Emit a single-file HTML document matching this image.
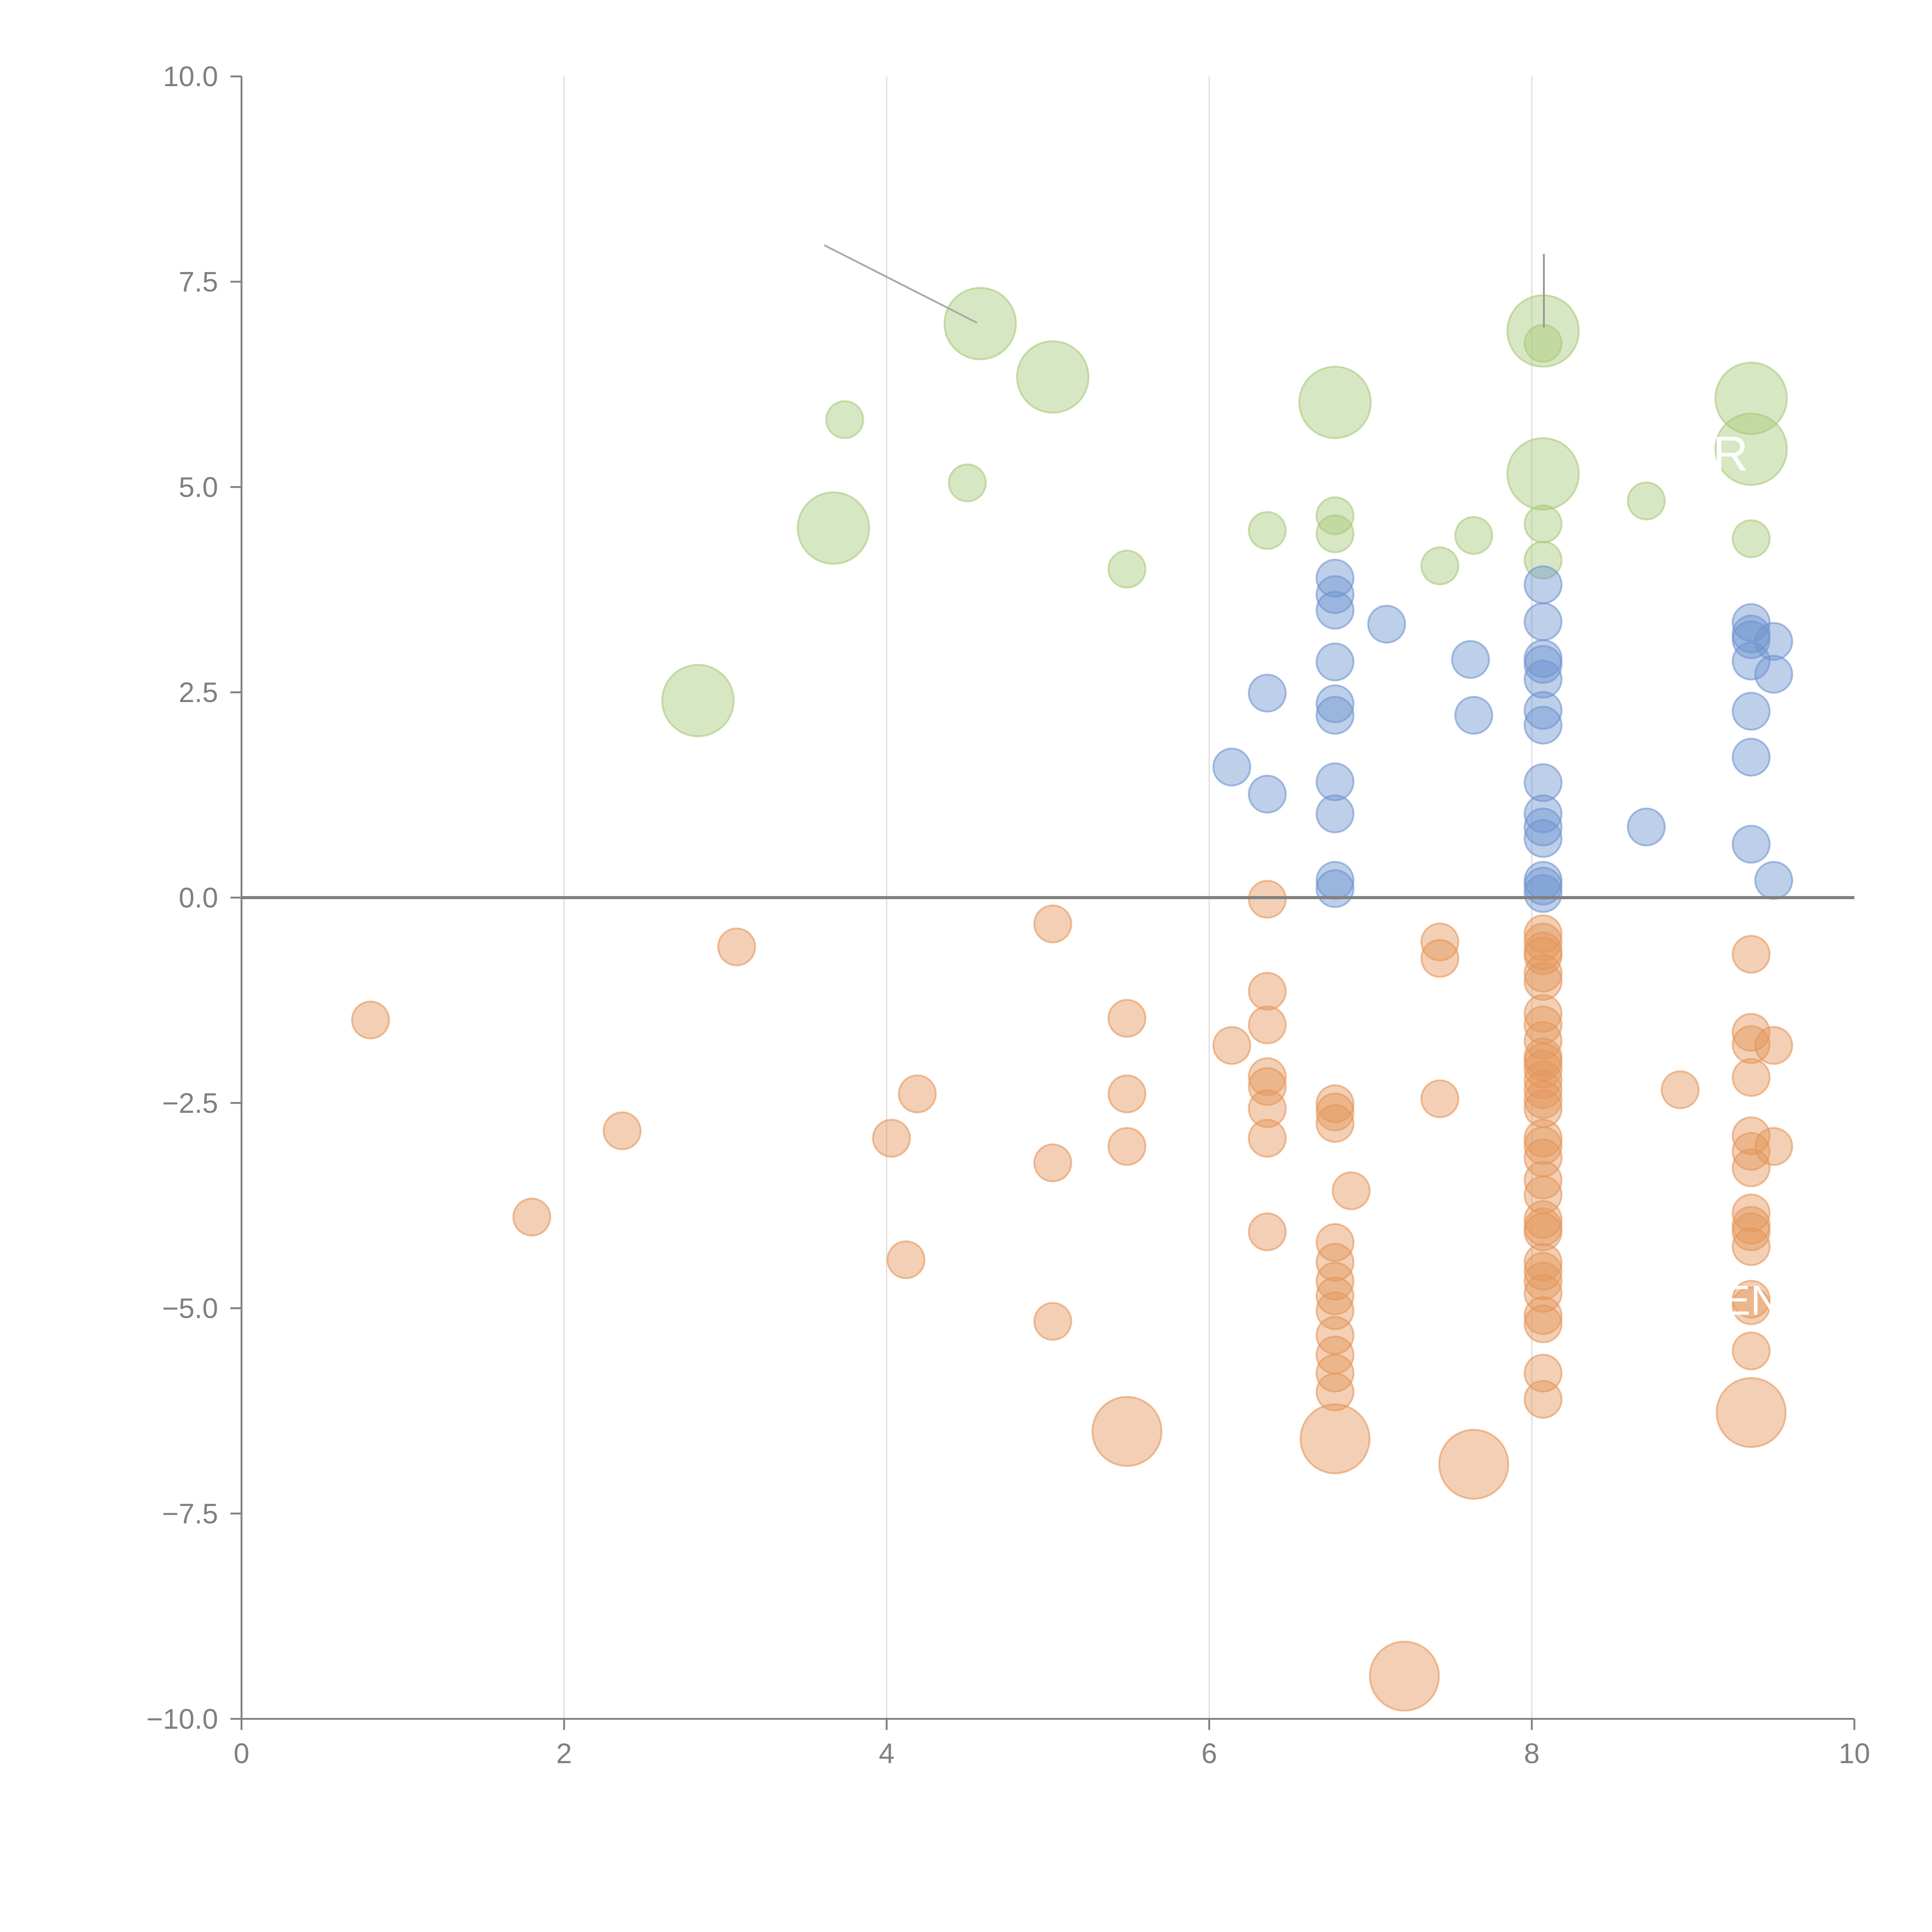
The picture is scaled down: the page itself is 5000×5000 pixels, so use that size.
<!DOCTYPE html>
<html><head><meta charset="utf-8"><style>
html,body{margin:0;padding:0;background:#fff}
svg{display:block}
text{font-family:"Liberation Sans",sans-serif;fill:#808080}
</style></head><body>
<svg id="chart" width="5000" height="5000" viewBox="0 0 1568 1568" xmlns="http://www.w3.org/2000/svg">
<g id="grid"></g>
<g id="marks"></g>
<g id="axes"></g>
</svg>
<script>
const xTicks=[0,2,4,6,8,10];
const yTicks=[10,7.5,5,2.5,0,-2.5,-5,-7.5,-10];
const yTickLabels=["10.0","7.5","5.0","2.5","0.0","\u22122.5","\u22125.0","\u22127.5","\u221210.0"];
const greenX=[3.74,4.50,5.49,6.36,6.78,6.78,7.43,7.64,8.07,8.07,8.71,9.36,8.07];
const greenY=[5.82,5.05,4.00,4.47,4.65,4.43,4.04,4.41,4.55,4.11,4.83,4.37,6.75];
const greenBigX=[4.58,5.03,3.67,2.83,6.78,8.07,8.07,9.36,9.36];
const greenBigY=[6.99,6.34,4.50,2.40,6.03,6.90,5.16,6.08,5.46];
const blueX=[6.78,6.78,6.78,6.78,6.78,6.78,6.78,6.78,6.78,6.78,6.14,6.36,6.36,7.10,7.62,7.64,
8.07,8.07,8.07,8.07,8.07,8.07,8.07,8.07,8.07,8.07,8.07,8.07,8.07,8.07,8.71,
9.36,9.36,9.36,9.36,9.36,9.36,9.36,9.50,9.50,9.50];
const blueY=[3.89,3.69,3.50,2.87,2.36,2.22,1.41,1.02,0.21,0.11,1.59,2.49,1.26,3.33,2.90,2.22,
3.81,3.36,2.91,2.84,2.66,2.28,2.10,1.40,1.02,0.86,0.72,0.21,0.14,0.05,0.86,
3.35,3.21,2.88,2.27,1.71,0.65,3.14,3.12,2.72,0.21];
const orangeX=[0.80,1.80,2.36,3.07,4.03,4.19,4.12,5.03,5.03,5.03,5.49,5.49,5.49,6.14,
6.36,6.36,6.36,6.36,6.36,6.36,6.36,6.36,
6.78,6.78,6.78,6.78,6.78,6.78,6.78,6.78,6.78,6.78,6.78,6.78,
6.88,7.43,7.43,7.43,
8.07,8.07,8.07,8.07,8.07,8.07,8.07,8.07,8.07,8.07,8.07,8.07,8.07,8.07,8.07,8.07,
8.07,8.07,8.07,8.07,8.07,8.07,8.07,8.07,8.07,8.07,8.07,8.07,8.07,8.07,8.07,8.07,
8.92,9.36,9.36,9.36,9.36,9.36,9.36,9.36,9.36,9.36,9.36,9.36,9.36,9.36,9.36,9.50,9.50];
const orangeY=[-1.49,-3.89,-2.84,-0.60,-2.93,-2.39,-4.41,-0.32,-3.23,-5.16,-1.47,-2.39,-3.03,-1.80,
-0.02,-1.14,-1.55,-2.18,-2.30,-2.57,-2.93,-4.07,
-2.51,-2.61,-2.75,-4.20,-4.44,-4.67,-4.85,-5.03,-5.33,-5.57,-5.79,-6.02,
-3.57,-0.54,-0.74,-2.45,
-0.44,-0.54,-0.65,-0.71,-0.92,-1.02,-1.41,-1.55,-1.74,-1.94,-2.00,-2.09,-2.22,-2.34,-2.46,-2.57,
-2.93,-3.02,-3.17,-3.44,-3.62,-3.92,-4.01,-4.07,-4.44,-4.55,-4.67,-4.82,-5.09,-5.19,-5.79,-6.11,
-2.34,-0.69,-1.64,-1.79,-2.19,-2.90,-3.09,-3.29,-3.84,-3.99,-4.07,-4.25,-4.89,-4.97,-5.52,-1.80,-3.03];
const orangeBigX=[5.49,6.78,7.64,9.36,7.21];
const orangeBigY=[-6.50,-6.59,-6.90,-6.27,-9.48];

const NS="http://www.w3.org/2000/svg";
const X0=196,X1=1505,Y0=1395,Y1=62;
function sx(v){return X0+(v-0)/(10-0)*(X1-X0);}
function sy(v){return Y0-(v+10)/20*(Y0-Y1);}
function el(t,a,p){const e=document.createElementNS(NS,t);for(const k in a)e.setAttribute(k,a[k]);p.appendChild(e);return e;}
const grid=document.getElementById('grid'),marks=document.getElementById('marks'),axes=document.getElementById('axes');
xTicks.forEach(t=>{if(t>0&&t<10){const l=el('line',{x1:sx(t),x2:sx(t),y1:Y1,y2:Y0,stroke:'#dddddd','stroke-width':1},grid);

}});
function series(xs,ys,r,fill,stroke,name){xs.forEach((x,i)=>{const c=el('circle',{cx:sx(x),cy:sy(ys[i]),r:r,fill:fill,'fill-opacity':0.45,stroke:stroke,'stroke-opacity':0.6,'stroke-width':1.5},marks);

});}
series(greenBigX,greenBigY,29,'#a9c97a','#a9c97a','green-big-bubble');
series(greenX,greenY,15,'#a9c97a','#a9c97a','green-bubble');
series(blueX,blueY,15,'#6f95d0','#6f95d0','blue-bubble');
series(orangeX,orangeY,15,'#e5965c','#e5965c','orange-bubble');
series(orangeBigX,orangeBigY,28,'#e5965c','#e5965c','orange-big-bubble');
const a1=el('line',{x1:669,y1:199,x2:793,y2:262,stroke:'#aaaaaa','stroke-width':1.5},marks);


const a2=el('line',{x1:1253,y1:206,x2:1253,y2:266,stroke:'#999999','stroke-width':1.5},marks);


const t1=el('text',{x:1390,y:382,'font-size':40,style:'fill:#fff'},marks);t1.textContent='R';


const t2=el('text',{x:1398,y:1067,'font-size':34,style:'fill:#fff'},marks);t2.textContent='EN';


const z=el('line',{x1:X0,x2:X1,y1:sy(0),y2:sy(0),stroke:'#808080','stroke-width':2.5},axes);


const ya=el('line',{x1:X0,x2:X0,y1:Y1,y2:Y0,stroke:'#808080','stroke-width':1.5},axes);


const xa=el('line',{x1:X0,x2:X1,y1:Y0,y2:Y0,stroke:'#808080','stroke-width':1.5},axes);


yTicks.forEach((t,i)=>{const y=sy(t);el('line',{x1:X0-9,x2:X0,y1:y,y2:y,stroke:'#808080','stroke-width':1.5},axes);
const tx=el('text',{x:X0-19,y:y+8,'font-size':23,'text-anchor':'end'},axes);tx.textContent=yTickLabels[i];

});
xTicks.forEach(t=>{const x=sx(t);el('line',{x1:x,x2:x,y1:Y0,y2:Y0+9,stroke:'#808080','stroke-width':1.5},axes);
const tx=el('text',{x:x,y:Y0+36,'font-size':23,'text-anchor':'middle'},axes);tx.textContent=String(t);

});
</script>
</body></html>
